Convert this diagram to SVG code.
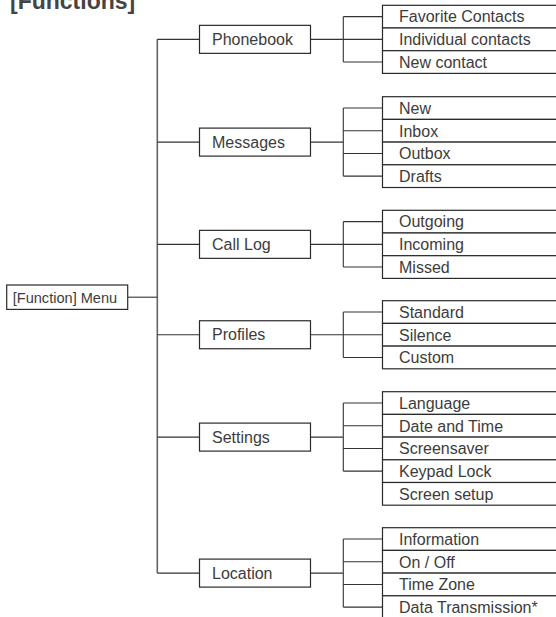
<svg xmlns="http://www.w3.org/2000/svg" width="556" height="617" viewBox="0 0 556 617">
<style>
.bg{fill:#ffffff}
.box{fill:#ffffff;stroke:#2a2a2a;stroke-width:1.2}
.row{fill:#ffffff;stroke:#2a2a2a;stroke-width:1.2}
.t{font-family:"Liberation Sans",Arial,sans-serif;font-size:16px;fill:#3c3c3c}
.tm{font-family:"Liberation Sans",Arial,sans-serif;font-size:15.5px;fill:#3c3c3c}
.title{font-family:"Liberation Sans",Arial,sans-serif;font-size:23px;font-weight:bold;fill:#444444}
.c{fill:none;stroke:#333333;stroke-width:1.1}
.main{fill:none;stroke:#666666;stroke-width:1.6}
</style>
<rect class="bg" x="0" y="0" width="556" height="617"/>
<text class="title" x="10" y="9">[Functions]</text>

<g id="connectors">
  <path class="main" d="M157.3,39.35 V573.1"/>
  <path class="c" d="M127.7,297.2 H157.3"/>
  <path class="c" d="M157.3,39.35 H199.5 M310.5,39.35 H382.5 M343.3,16.65 V62.05 M343.3,16.65 H382.5 M343.3,62.05 H382.5"/>
  <path class="c" d="M157.3,142.1 H199.5 M310.5,142.1 H343.3 M343.3,108.05 V176.15 M343.3,108.05 H382.5 M343.3,130.75 H382.5 M343.3,153.45 H382.5 M343.3,176.15 H382.5"/>
  <path class="c" d="M157.3,244.35 H199.5 M310.5,244.35 H382.5 M343.3,221.65 V267.05 M343.3,221.65 H382.5 M343.3,267.05 H382.5"/>
  <path class="c" d="M157.3,334.75 H199.5 M310.5,334.75 H382.5 M343.3,312.05 V357.45 M343.3,312.05 H382.5 M343.3,357.45 H382.5"/>
  <path class="c" d="M157.3,437.1 H199.5 M310.5,437.1 H343.3 M343.3,403.05 V471.15 M343.3,403.05 H382.5 M343.3,425.75 H382.5 M343.3,448.45 H382.5 M343.3,471.15 H382.5"/>
  <path class="c" d="M157.3,573.1 H199.5 M310.5,573.1 H343.3 M343.3,539.05 V607.15 M343.3,539.05 H382.5 M343.3,561.75 H382.5 M343.3,584.45 H382.5 M343.3,607.15 H382.5"/>
</g>

<g id="menu"><rect class="box" x="6.7" y="285" width="121" height="24.4"/><text class="tm" x="12.7" y="302.8" textLength="104.5" lengthAdjust="spacingAndGlyphs">[Function] Menu</text></g>

<g id="phonebook"><rect class="box" x="199.5" y="25.35" width="111" height="28"/><text class="t" x="212" y="45">Phonebook</text></g>
<g id="messages"><rect class="box" x="199.5" y="128.1" width="111" height="28"/><text class="t" x="212" y="147.8">Messages</text></g>
<g id="calllog"><rect class="box" x="199.5" y="230.35" width="111" height="28"/><text class="t" x="212" y="250">Call Log</text></g>
<g id="profiles"><rect class="box" x="199.5" y="320.75" width="111" height="28"/><text class="t" x="212" y="340.4">Profiles</text></g>
<g id="settings"><rect class="box" x="199.5" y="423.1" width="111" height="28"/><text class="t" x="212" y="442.8">Settings</text></g>
<g id="location"><rect class="box" x="199.5" y="559.1" width="111" height="28"/><text class="t" x="212" y="578.8">Location</text></g>

<g id="pb-fav"><rect class="row" x="382.5" y="5.3" width="180" height="22.7"/><text class="t" x="399" y="22.4">Favorite Contacts</text></g>
<g id="pb-ind"><rect class="row" x="382.5" y="28" width="180" height="22.7"/><text class="t" x="399" y="45.1">Individual contacts</text></g>
<g id="pb-new"><rect class="row" x="382.5" y="50.7" width="180" height="22.7"/><text class="t" x="399" y="67.8">New contact</text></g>

<g id="msg-new"><rect class="row" x="382.5" y="96.7" width="180" height="22.7"/><text class="t" x="399" y="113.8">New</text></g>
<g id="msg-inbox"><rect class="row" x="382.5" y="119.4" width="180" height="22.7"/><text class="t" x="399" y="136.5">Inbox</text></g>
<g id="msg-outbox"><rect class="row" x="382.5" y="142.1" width="180" height="22.7"/><text class="t" x="399" y="159.2">Outbox</text></g>
<g id="msg-drafts"><rect class="row" x="382.5" y="164.8" width="180" height="22.7"/><text class="t" x="399" y="181.9">Drafts</text></g>

<g id="cl-out"><rect class="row" x="382.5" y="210.3" width="180" height="22.7"/><text class="t" x="399" y="227.4">Outgoing</text></g>
<g id="cl-in"><rect class="row" x="382.5" y="233" width="180" height="22.7"/><text class="t" x="399" y="250.1">Incoming</text></g>
<g id="cl-missed"><rect class="row" x="382.5" y="255.7" width="180" height="22.7"/><text class="t" x="399" y="272.8">Missed</text></g>

<g id="pr-std"><rect class="row" x="382.5" y="300.7" width="180" height="22.7"/><text class="t" x="399" y="317.8">Standard</text></g>
<g id="pr-sil"><rect class="row" x="382.5" y="323.4" width="180" height="22.7"/><text class="t" x="399" y="340.5">Silence</text></g>
<g id="pr-cus"><rect class="row" x="382.5" y="346.1" width="180" height="22.7"/><text class="t" x="399" y="363.2">Custom</text></g>

<g id="st-lang"><rect class="row" x="382.5" y="391.7" width="180" height="22.7"/><text class="t" x="399" y="408.8">Language</text></g>
<g id="st-date"><rect class="row" x="382.5" y="414.4" width="180" height="22.7"/><text class="t" x="399" y="431.5">Date and Time</text></g>
<g id="st-saver"><rect class="row" x="382.5" y="437.1" width="180" height="22.7"/><text class="t" x="399" y="454.2">Screensaver</text></g>
<g id="st-lock"><rect class="row" x="382.5" y="459.8" width="180" height="22.7"/><text class="t" x="399" y="476.9">Keypad Lock</text></g>
<g id="st-setup"><rect class="row" x="382.5" y="482.5" width="180" height="22.7"/><text class="t" x="399" y="499.6">Screen setup</text></g>

<g id="lo-info"><rect class="row" x="382.5" y="527.7" width="180" height="22.7"/><text class="t" x="399" y="544.8">Information</text></g>
<g id="lo-onoff"><rect class="row" x="382.5" y="550.4" width="180" height="22.7"/><text class="t" x="399" y="567.5">On / Off</text></g>
<g id="lo-tz"><rect class="row" x="382.5" y="573.1" width="180" height="22.7"/><text class="t" x="399" y="590.2">Time Zone</text></g>
<g id="lo-data"><rect class="row" x="382.5" y="595.8" width="180" height="22.7"/><text class="t" x="399" y="612.9">Data Transmission*</text></g>
</svg>
